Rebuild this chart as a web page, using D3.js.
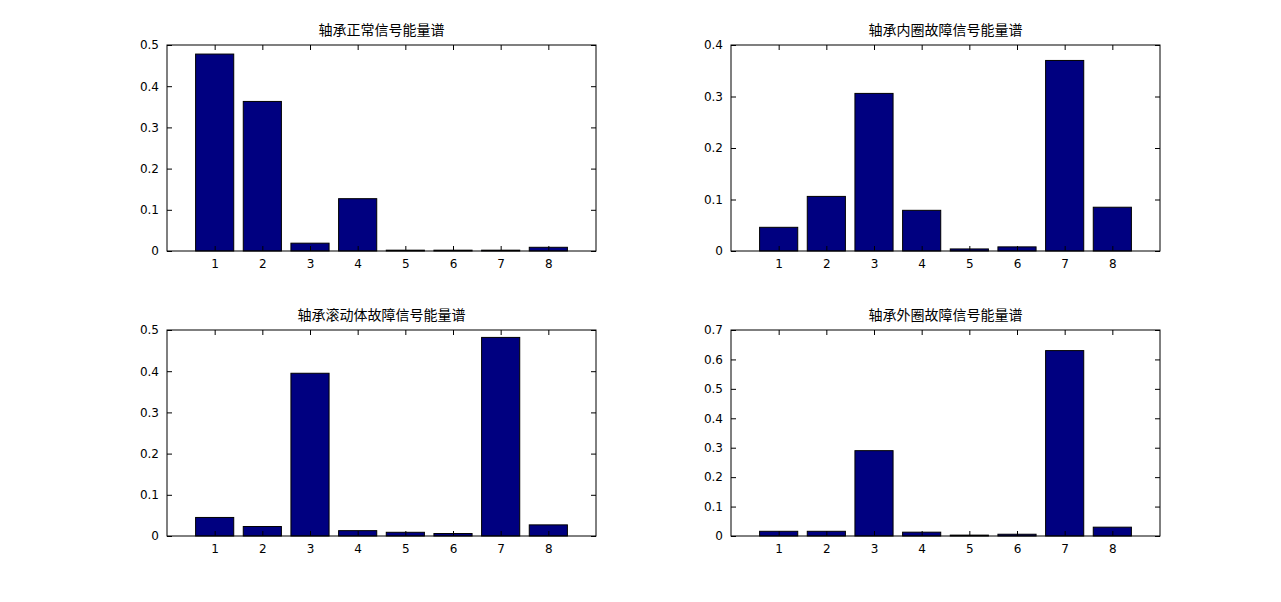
<!DOCTYPE html>
<html><head><meta charset="utf-8">
<script src="https://cdn.jsdelivr.net/npm/d3@7/dist/d3.min.js"></script>
<style>body{margin:0;background:#fff}text{font-family:"Noto Sans CJK SC","DejaVu Sans",sans-serif;}</style>
</head><body><svg id="c" width="1281" height="602"></svg>
<script>
const categories=[1,2,3,4,5,6,7,8];
const titles=["轴承正常信号能量谱","轴承内圈故障信号能量谱","轴承滚动体故障信号能量谱","轴承外圈故障信号能量谱"];
const normalVals=[0.478,0.363,0.019,0.127,0.002,0.002,0.002,0.009];
const innerVals=[0.046,0.106,0.306,0.079,0.004,0.008,0.370,0.085];
const ballVals=[0.045,0.023,0.395,0.013,0.009,0.006,0.482,0.027];
const outerVals=[0.016,0.016,0.290,0.013,0.003,0.006,0.630,0.030];
const yMaxes=[0.5,0.4,0.5,0.7];
const series=[normalVals,innerVals,ballVals,outerVals];
const boxes=[[167,45],[731,45],[167,330],[731,330]];
const W=429,H=206;
const svg=d3.select("#c");
series.forEach((vals,i)=>{
  const [x0,y0]=boxes[i];
  const g=svg.append("g").attr("transform",`translate(${x0},${y0})`);
  const x=d3.scaleLinear().domain([0,9]).range([0,W]);
  const y=d3.scaleLinear().domain([0,yMaxes[i]]).range([H,0]);
  g.selectAll("rect.b").data(vals).join("rect").attr("class","b")
    .attr("x",(d,j)=>x(categories[j]-0.4)).attr("width",x(0.8)-x(0))
    .attr("y",d=>y(d)).attr("height",d=>H-y(d))
    .attr("fill","#000080").attr("stroke","#000").attr("stroke-width",1);
  g.append("rect").attr("width",W).attr("height",H).attr("fill","none").attr("stroke","#000");
  const yt=d3.range(0,yMaxes[i]+1e-9,0.1);
  const ax=g.append("g").attr("transform",`translate(0,${H})`).call(d3.axisBottom(x).tickValues(categories).tickSize(-5).tickPadding(8));
  const ay=g.append("g").call(d3.axisLeft(y).tickValues(yt).tickFormat(d=>d3.format("~g")(+d.toFixed(2))).tickSize(-5).tickPadding(8));
  const ar=g.append("g").attr("transform",`translate(${W},0)`).call(d3.axisRight(y).tickValues(yt).tickSize(-5).tickFormat(""));
  const at=g.append("g").call(d3.axisTop(x).tickValues(categories).tickSize(-5).tickFormat(""));
  [ax,ay,ar,at].forEach(a=>{a.select(".domain").remove();a.selectAll("text").attr("font-size",12).attr("fill","#000").style("font-family","'DejaVu Sans',sans-serif");});
  g.append("text").attr("x",W/2).attr("y",-10).attr("text-anchor","middle").attr("font-size",14).text(titles[i]);
});
</script></body></html>
